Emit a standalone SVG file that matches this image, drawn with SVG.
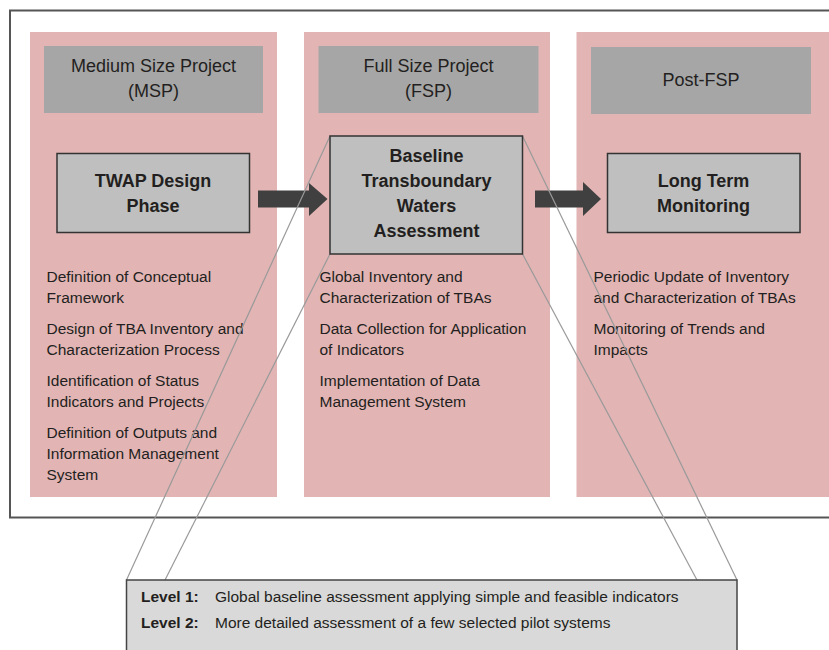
<svg xmlns="http://www.w3.org/2000/svg" width="829" height="650" viewBox="0 0 829 650">
  <defs>
    <style>
      .frame { fill: #ffffff; stroke: #555555; stroke-width: 2; }
      .panel { fill: #e2b4b4; }
      .header { fill: #a6a6a6; }
      .box { fill: #bfbfbf; stroke: #333333; stroke-width: 1.5; }
      .levels { fill: #d9d9d9; stroke: #444444; stroke-width: 1.5; }
      .arrow { fill: #404040; }
      .zoomline { stroke: #9a9a9a; stroke-width: 1.2; fill: none; }
      text { font-family: "Liberation Sans", Arial, sans-serif; fill: #231f20; }
      .htext { font-size: 18px; text-anchor: middle; }
      .btext { font-size: 18px; font-weight: bold; text-anchor: middle; }
      .item { font-size: 15.5px; }
      .lvl { font-size: 15.5px; }
      .lvlb { font-size: 15.5px; font-weight: bold; }
    </style>
  </defs>

  <rect width="829" height="650" fill="#ffffff"/>

  <!-- outer frame, open to the right -->
  <rect class="frame" x="10" y="10.5" width="840" height="507"/>

  <!-- phase columns -->
  <g id="panel-msp">
    <rect class="panel" x="30" y="32" width="247" height="465"/>
    <rect class="header" x="44" y="46" width="219" height="67"/>
    <text class="htext" x="153.5" y="71.7">Medium Size Project</text>
    <text class="htext" x="153.5" y="96.7">(MSP)</text>
    <text class="item" x="46.5" y="281.7">Definition of Conceptual</text>
    <text class="item" x="46.5" y="302.7">Framework</text>
    <text class="item" x="46.5" y="334">Design of TBA Inventory and</text>
    <text class="item" x="46.5" y="355">Characterization Process</text>
    <text class="item" x="46.5" y="386">Identification of Status</text>
    <text class="item" x="46.5" y="407">Indicators and Projects</text>
    <text class="item" x="46.5" y="438">Definition of Outputs and</text>
    <text class="item" x="46.5" y="459">Information Management</text>
    <text class="item" x="46.5" y="480">System</text>
  </g>

  <g id="panel-fsp">
    <rect class="panel" x="304" y="32" width="246" height="465"/>
    <rect class="header" x="318.5" y="46" width="220" height="67"/>
    <text class="htext" x="428.5" y="71.7">Full Size Project</text>
    <text class="htext" x="428.5" y="96.7">(FSP)</text>
    <text class="item" x="319.5" y="281.7">Global Inventory and</text>
    <text class="item" x="319.5" y="302.7">Characterization of TBAs</text>
    <text class="item" x="319.5" y="334">Data Collection for Application</text>
    <text class="item" x="319.5" y="355">of Indicators</text>
    <text class="item" x="319.5" y="386">Implementation of Data</text>
    <text class="item" x="319.5" y="407">Management System</text>
  </g>

  <g id="panel-post">
    <rect class="panel" x="576.5" y="32" width="260" height="465"/>
    <rect class="header" x="591" y="47" width="220" height="67"/>
    <text class="htext" x="701" y="86">Post-FSP</text>
    <text class="item" x="593.5" y="281.7">Periodic Update of Inventory</text>
    <text class="item" x="593.5" y="302.7">and Characterization of TBAs</text>
    <text class="item" x="593.5" y="334">Monitoring of Trends and</text>
    <text class="item" x="593.5" y="355">Impacts</text>
  </g>

  <!-- connectors: flow arrows and the zoom-out lines to the level box -->
  <g id="connectors">
    <polygon class="arrow" points="258,190.5 309,190.5 309,183 327.5,199 309,216 309,207.5 258,207.5"/>
    <polygon class="arrow" points="535,190.5 583,190.5 583,182 601,199 583,216 583,207.5 535,207.5"/>
    <line class="zoomline" x1="330" y1="136" x2="126.5" y2="580"/>
    <line class="zoomline" x1="330" y1="254" x2="165" y2="580"/>
    <line class="zoomline" x1="522.5" y1="136" x2="737" y2="580"/>
    <line class="zoomline" x1="522.5" y1="254" x2="697" y2="580"/>
  </g>

  <g id="node-twap">
    <rect class="box" x="57" y="153.5" width="192.5" height="79"/>
    <text class="btext" x="153" y="187.3">TWAP Design</text>
    <text class="btext" x="153" y="211.7">Phase</text>
  </g>

  <g id="node-baseline">
    <rect class="box" x="330" y="136" width="192.5" height="118"/>
    <text class="btext" x="426.5" y="161.7">Baseline</text>
    <text class="btext" x="426.5" y="186.5">Transboundary</text>
    <text class="btext" x="426.5" y="211.7">Waters</text>
    <text class="btext" x="426.5" y="237">Assessment</text>
  </g>

  <g id="node-ltm">
    <rect class="box" x="607.5" y="153.5" width="192.5" height="79"/>
    <text class="btext" x="703.5" y="187.3">Long Term</text>
    <text class="btext" x="703.5" y="211.7">Monitoring</text>
  </g>

  <g id="node-levels">
    <rect class="levels" x="126.5" y="580" width="610.5" height="90"/>
    <text class="lvlb" x="141" y="601.7">Level 1:</text>
    <text class="lvl" x="215" y="601.7">Global baseline assessment applying simple and feasible indicators</text>
    <text class="lvlb" x="141" y="628.3">Level 2:</text>
    <text class="lvl" x="215" y="628.3">More detailed assessment of a few selected pilot systems</text>
  </g>
</svg>
